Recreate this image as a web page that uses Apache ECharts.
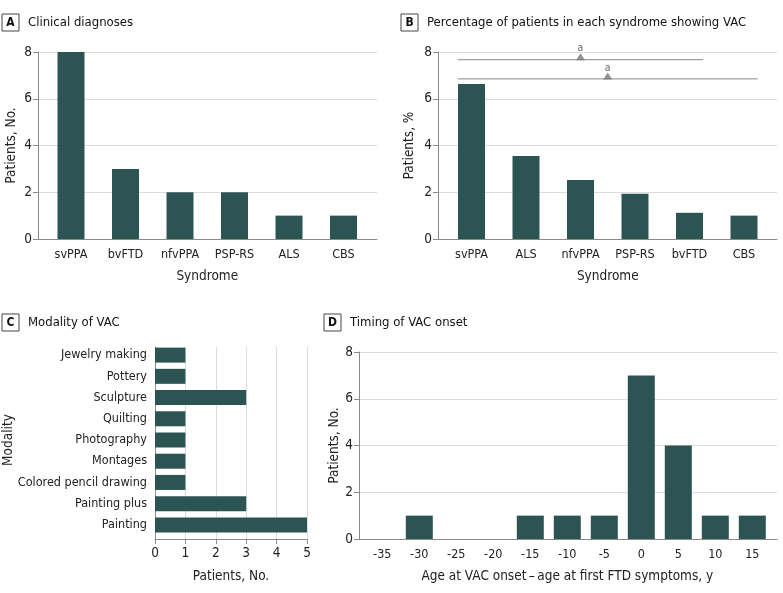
<!DOCTYPE html>
<html>
<head>
<meta charset="utf-8">
<script src="https://cdn.jsdelivr.net/npm/echarts@6/dist/echarts.min.js"></script>
<style>html,body{margin:0;padding:0;background:#fff}#c{width:783px;height:593px}</style>
</head>
<body>
<div id="c"></div>
<script>
// ---- data ----
const syndromesA = ['svPPA', 'bvFTD', 'nfvPPA', 'PSP-RS', 'ALS', 'CBS'];
const countsA = [8, 3, 2, 2, 1, 1];

const syndromesB = ['svPPA', 'ALS', 'nfvPPA', 'PSP-RS', 'bvFTD', 'CBS'];
const percentB = [6.63, 3.55, 2.52, 1.94, 1.12, 1.0];
// significance brackets (x in category index units, y in %)
const sigLine1 = [[-0.25, 7.67], [4.25, 7.67]];
const sigLine2 = [[-0.25, 6.85], [5.25, 6.85]];
const sigMarks = [[2, 7.67], [2.5, 6.85]];

const modalities = ['Painting', 'Painting plus', 'Colored pencil drawing', 'Montages', 'Photography', 'Quilting', 'Sculpture', 'Pottery', 'Jewelry making'];
const modalityCounts = [5, 3, 1, 1, 1, 1, 3, 1, 1];

const onsetBins = ['-35', '-30', '-25', '-20', '-15', '-10', '-5', '0', '5', '10', '15'];
const onsetCounts = [0, 1, 0, 0, 1, 1, 1, 7, 4, 1, 1];

// ---- style ----
const FONT = '"DejaVu Sans Condensed", "DejaVu Sans", sans-serif';
const BAR = '#2b5452';
const AX = '#8a8a8a';
const GRID = '#dcdcdc';
const TXT = '#222';
const TICK_FS = 12.5;
const NAME_FS = 13.5;

function titleOpt(letter, text, x, y) {
  return {
    left: x, top: y, padding: 0,
    text: '{b|' + letter + '}{t|' + text + '}',
    textStyle: {
      fontWeight: 'normal',
      rich: {
        b: {fontFamily: FONT, fontSize: 12, fontWeight: 'bold', color: '#111', borderColor: '#444', borderWidth: 1,
            padding: [3, 4, 2, 4], width: 9, align: 'center', lineHeight: 13},
        t: {fontFamily: FONT, fontSize: 13, fontWeight: 'normal', color: '#111', padding: [0, 0, 0, 9]}
      }
    }
  };
}

const hidden = {show: false};
function outerY(max, interval) {
  return {type: 'value', min: 0, max: max, interval: interval,
    axisLine: {show: true, lineStyle: {color: AX}},
    axisTick: {show: true, length: 5, lineStyle: {color: AX}},
    axisLabel: {fontFamily: FONT, fontSize: 13.5, color: TXT, margin: 6},
    splitLine: {show: true, lineStyle: {color: GRID}}};
}
function outerXLine() {
  return {type: 'value', min: 0, max: 1, axisLine: {show: true, onZero: false, lineStyle: {color: AX}},
    axisTick: hidden, axisLabel: hidden, splitLine: hidden};
}
function catX(data, name, gridIndex, nameGap) {
  return {type: 'category', data: data, gridIndex: gridIndex,
    axisLine: hidden, axisTick: hidden,
    axisLabel: {fontFamily: FONT, fontSize: TICK_FS, color: TXT, margin: 9, interval: 0},
    name: name, nameLocation: 'middle', nameGap: nameGap, nameMoveOverlap: false,
    nameTextStyle: {fontFamily: FONT, fontSize: NAME_FS, color: TXT}};
}
function hiddenY(max, gridIndex) {
  return {type: 'value', min: 0, max: max, gridIndex: gridIndex, axisLine: hidden, axisTick: hidden,
    axisLabel: hidden, splitLine: hidden};
}
function yName(name, gap) {
  return {name: name, nameLocation: 'middle', nameGap: gap, nameMoveOverlap: false,
    nameTextStyle: {fontFamily: FONT, fontSize: NAME_FS, color: TXT}};
}
const barStyle = {color: BAR};
function g(o) { o.outerBoundsMode = 'none'; o.containLabel = false; return o; }

const option = {
  animation: false,
  title: [
    titleOpt('A', 'Clinical diagnoses', 2, 16),
    titleOpt('B', 'Percentage of patients in each syndrome showing VAC', 401, 16),
    titleOpt('C', 'Modality of VAC', 2, 316),
    titleOpt('D', 'Timing of VAC onset', 324, 316)
  ],
  grid: [
    g({left: 38, top: 52, width: 339, height: 187}),
    g({left: 43.75, top: 52, width: 327, height: 187}),
    g({left: 438, top: 52, width: 339, height: 187}),
    g({left: 444.25, top: 52, width: 327, height: 187}),
    g({left: 155, top: 347, width: 152, height: 192}),
    g({left: 155, top: 344.5, width: 152, height: 191}),
    g({left: 359, top: 352, width: 418, height: 187}),
    g({left: 363.8, top: 352, width: 407, height: 187})
  ],
  xAxis: [
    Object.assign(outerXLine(), {gridIndex: 0}),
    catX(syndromesA, 'Syndrome', 1, 30),
    Object.assign(outerXLine(), {gridIndex: 2}),
    catX(syndromesB, 'Syndrome', 3, 30),
    {type: 'value', gridIndex: 4, min: 0, max: 5, interval: 1,
      axisLine: {show: true, lineStyle: {color: AX}},
      axisTick: {show: true, length: 5, lineStyle: {color: AX}},
      axisLabel: {fontFamily: FONT, fontSize: 13.5, color: TXT, margin: 7},
      splitLine: {show: true, lineStyle: {color: GRID}},
      name: 'Patients, No.', nameLocation: 'middle', nameGap: 30, nameMoveOverlap: false,
      nameTextStyle: {fontFamily: FONT, fontSize: NAME_FS, color: TXT}},
    {type: 'value', gridIndex: 5, min: 0, max: 5, show: false},
    Object.assign(outerXLine(), {gridIndex: 6}),
    catX(onsetBins, 'Age at VAC onset\u2009\u2013\u2009age at first FTD symptoms, y', 7, 30),
    {type: 'value', gridIndex: 3, min: -0.5, max: 5.5, show: false}
  ],
  yAxis: [
    Object.assign(outerY(8, 2), {gridIndex: 0}, yName('Patients, No.', 20)),
    hiddenY(8, 1),
    Object.assign(outerY(8, 2), {gridIndex: 2}, yName('Patients, %', 22)),
    hiddenY(8, 3),
    {type: 'value', gridIndex: 4, min: 0, max: 1, axisLine: {show: true, lineStyle: {color: AX}},
      axisTick: hidden, axisLabel: hidden, splitLine: hidden},
    Object.assign({type: 'category', gridIndex: 5, data: modalities, axisLine: hidden, axisTick: hidden,
      axisLabel: {fontFamily: FONT, fontSize: TICK_FS, color: TXT, margin: 8, interval: 0}},
      yName('Modality', 140)),
    Object.assign(outerY(8, 2), {gridIndex: 6}, yName('Patients, No.', 18)),
    hiddenY(8, 7)
  ],
  series: [
    {type: 'bar', xAxisIndex: 1, yAxisIndex: 1, data: countsA, barWidth: 27, itemStyle: barStyle},
    {type: 'bar', xAxisIndex: 3, yAxisIndex: 3, data: percentB, barWidth: 27, itemStyle: barStyle},
    {type: 'line', xAxisIndex: 8, yAxisIndex: 3, data: sigLine1, symbol: 'none', lineStyle: {color: '#888', width: 1}, z: 5},
    {type: 'line', xAxisIndex: 8, yAxisIndex: 3, data: sigLine2, symbol: 'none', lineStyle: {color: '#888', width: 1}, z: 5},
    {type: 'scatter', xAxisIndex: 8, yAxisIndex: 3, data: sigMarks, symbol: 'triangle', symbolSize: [9, 7],
      symbolOffset: [0, -3], itemStyle: {color: '#777'}, z: 6,
      label: {show: true, position: 'top', formatter: 'a', distance: -1, fontFamily: FONT, fontSize: 10.5, color: '#444'}},
    {type: 'bar', xAxisIndex: 5, yAxisIndex: 5, data: modalityCounts, barWidth: 15, itemStyle: barStyle},
    {type: 'bar', xAxisIndex: 7, yAxisIndex: 7, data: onsetCounts, barWidth: 27, itemStyle: barStyle}
  ]
};
echarts.init(document.getElementById('c')).setOption(option);
</script>
</body>
</html>
